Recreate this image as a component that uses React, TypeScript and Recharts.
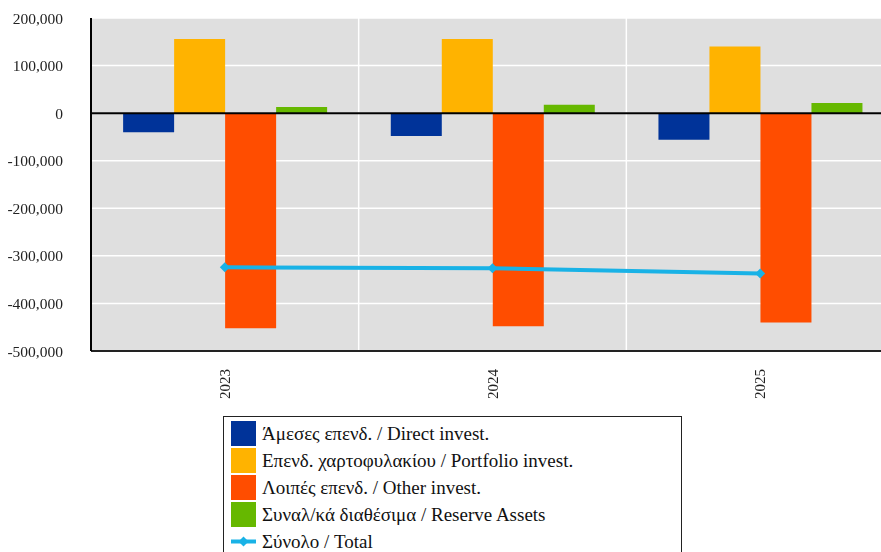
import { ComposedChart, Bar, Line, XAxis, YAxis, CartesianGrid, ReferenceLine, Legend } from 'recharts';

const years = ['2023', '2024', '2025'];
const directInvest = [-40000, -48000, -56000];
const portfolioInvest = [156000, 156000, 140000];
const otherInvest = [-452000, -448000, -440000];
const reserveAssets = [13000, 17500, 21500];
const total = [-324000, -326000, -337000];

const yTicks = [200000, 100000, 0, -100000, -200000, -300000, -400000, -500000];

const SERIES = [
  { key: 'direct', name: 'Άμεσες επενδ. / Direct invest.', color: '#003399' },
  { key: 'portfolio', name: 'Επενδ. χαρτοφυλακίου / Portfolio invest.', color: '#FFB300' },
  { key: 'other', name: 'Λοιπές επενδ. / Other invest.', color: '#FF4D00' },
  { key: 'reserve', name: 'Συναλ/κά διαθέσιμα / Reserve Assets', color: '#66B800' },
];
const TOTAL = { key: 'total', name: 'Σύνολο / Total', color: '#19B2E6' };

const FONT = '"Liberation Serif", "DejaVu Serif", serif';

const data = years.map((year, i) => ({
  year,
  direct: directInvest[i],
  portfolio: portfolioInvest[i],
  other: otherInvest[i],
  reserve: reserveAssets[i],
  total: total[i],
}));

function YearTick({ x, y, payload }: any) {
  return (
    <g transform={`translate(${x + 5},${y + 18}) rotate(-90)`}>
      <text x={0} y={0} textAnchor="end" fontSize={15} fontFamily={FONT} fill="#222">
        {payload.value}
      </text>
    </g>
  );
}

function Diamond({ cx, cy }: any) {
  if (cx == null || cy == null) return null;
  return <path d={`M${cx - 5},${cy} L${cx},${cy - 5} L${cx + 5},${cy} L${cx},${cy + 5} Z`} fill={TOTAL.color} />;
}

function renderLegend() {
  return (
    <div
      style={{
        border: '1.5px solid #222',
        width: 459,
        boxSizing: 'border-box',
        padding: '3px 0 6px 7px',
        fontFamily: FONT,
        fontSize: 19,
        color: '#111',
        background: '#fff',
      }}
    >
      {SERIES.map((s) => (
        <div key={s.key} style={{ display: 'flex', alignItems: 'center', height: 27 }}>
          <div style={{ width: 25, height: 25, background: s.color, marginRight: 6 }} />
          <span>{s.name}</span>
        </div>
      ))}
      <div style={{ display: 'flex', alignItems: 'center', height: 27 }}>
        <svg width={25} height={25} style={{ marginRight: 6 }}>
          <line x1={0} y1={12.5} x2={25} y2={12.5} stroke={TOTAL.color} strokeWidth={4} />
          <path d="M7.5,12.5 L12.5,7.5 L17.5,12.5 L12.5,17.5 Z" fill={TOTAL.color} />
        </svg>
        <span>{TOTAL.name}</span>
      </div>
    </div>
  );
}

export default function App() {
  return (
    <div style={{ position: 'fixed', left: 8, top: 8, width: 873, height: 544, overflow: 'hidden' }}>
      <ComposedChart
        width={900}
        height={544}
        data={data}
        margin={{ top: 10, right: 14, bottom: 141, left: 0 }}
        barCategoryGap="12%"
        barGap={0}
      >
        <CartesianGrid vertical={false} fill="#DFDFDF" stroke="#FFFFFF" strokeWidth={1.5} />
        {years.slice(1).map((y) => (
          <ReferenceLine key={y} x={y} position="start" stroke="#FFFFFF" strokeWidth={1.5} />
        ))}
        <XAxis
          dataKey="year"
          height={60}
          tickLine={false}
          tickSize={0}
          tickMargin={0}
          axisLine={{ stroke: '#222', strokeWidth: 2 }}
          tick={<YearTick />}
          interval={0}
        />
        <YAxis
          width={83}
          domain={[-500000, 200000]}
          ticks={yTicks}
          interval={0}
          tickLine={false}
          tickSize={0}
          tickMargin={28}
          axisLine={{ stroke: '#000', strokeWidth: 2 }}
          tick={{ fontSize: 15.5, fontFamily: FONT, fill: '#222' }}
          tickFormatter={(v) => Number(v).toLocaleString('en-US')}
        />
        {SERIES.map((s) => (
          <Bar key={s.key} dataKey={s.key} name={s.name} fill={s.color} isAnimationActive={false} />
        ))}
        <ReferenceLine y={0} stroke="#000" strokeWidth={2} />
        <Line
          dataKey={TOTAL.key}
          name={TOTAL.name}
          stroke={TOTAL.color}
          strokeWidth={4}
          dot={<Diamond />}
          activeDot={false}
          isAnimationActive={false}
        />
        <Legend
          layout="vertical"
          align="center"
          verticalAlign="middle"
          content={renderLegend}
          wrapperStyle={{ position: 'absolute', left: 215, top: 408, width: 459, height: 'auto' }}
        />
      </ComposedChart>
    </div>
  );
}
